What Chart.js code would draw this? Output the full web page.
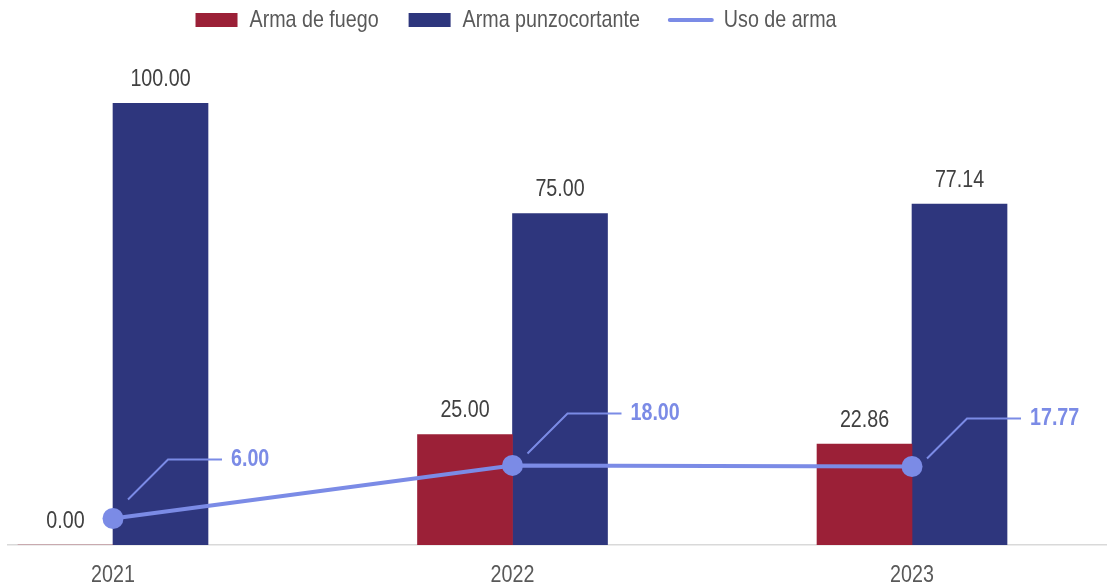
<!DOCTYPE html>
<html>
<head>
<meta charset="utf-8">
<script src="https://cdn.jsdelivr.net/npm/chart.js@4.4.1/dist/chart.umd.min.js"></script>
<style>
  html, body { margin: 0; padding: 0; background: #ffffff; }
  #wrap { width: 1107px; height: 588px; position: relative; }
</style>
</head>
<body>
<div id="wrap"><canvas id="chart"></canvas></div>
<script>
const years = ['2021', '2022', '2023'];
const armaFuego = [0, 25, 22.86];
const armaPunzocortante = [100, 75, 77.14];
const usoArma = [6, 18, 17.77];

const FONT = "'Liberation Sans', Arial, sans-serif";
const RED = '#9b2037';
const NAVY = '#2e367d';
const LILAC = '#7b8be6';

// leader line heights for the line labels (callouts)
const calloutRise = [59, 52, 48];

// no Arial Narrow here, so squeeze Liberation Sans to about the same width
const NARROW = 0.82;
const canvas = document.getElementById('chart');
const ctx2d = canvas.getContext('2d');
const rawMeasure = ctx2d.measureText.bind(ctx2d);
const rawFill = ctx2d.fillText.bind(ctx2d);
ctx2d.measureText = (text) => ({ width: rawMeasure(text).width * NARROW });
ctx2d.fillText = (text, x, y, maxWidth) => {
  let w = rawMeasure(text).width * NARROW;
  if (maxWidth !== undefined && maxWidth < w) w = maxWidth;
  rawFill(text, x, y, w);
};

const toPoints = (values) => values.map((v, i) => ({ x: i, y: v }));

const valueLabels = {
  id: 'valueLabels',
  afterDatasetsDraw(chart) {
    const { ctx } = chart;
    ctx.save();
    chart.data.datasets.forEach((ds, di) => {
      const meta = chart.getDatasetMeta(di);
      meta.data.forEach((el, i) => {
        const text = ds.data[i].y.toFixed(2);
        if (ds.type === 'line') {
          const rise = calloutRise[i];
          ctx.strokeStyle = LILAC;
          ctx.lineWidth = 2;
          ctx.beginPath();
          ctx.moveTo(el.x + 15, el.y - rise + 40);
          ctx.lineTo(el.x + 55, el.y - rise);
          ctx.lineTo(el.x + 109, el.y - rise);
          ctx.stroke();
          ctx.font = 'bold 24px ' + FONT;
          ctx.fillStyle = LILAC;
          ctx.textAlign = 'left';
          ctx.textBaseline = 'middle';
          ctx.fillText(text, el.x + 118, el.y - rise);
        } else {
          ctx.font = '24px ' + FONT;
          ctx.fillStyle = '#404040';
          ctx.textAlign = 'center';
          ctx.textBaseline = 'middle';
          ctx.fillText(text, el.x, el.y - 24);
        }
      });
    });
    ctx.restore();
  }
};

// nudge the legend to where it sits in the original
const legendShift = {
  id: 'legendShift',
  afterLayout(chart) {
    const lg = chart.legend;
    lg.left -= 41; lg.right -= 41;
    lg.top -= 61; lg.bottom -= 61;
  }
};

new Chart(canvas, {
  type: 'bar',
  data: {
    datasets: [
      {
        label: 'Arma de fuego',
        data: toPoints(armaFuego),
        backgroundColor: RED,
        barThickness: 95,
        order: 1
      },
      {
        label: 'Arma punzocortante',
        data: toPoints(armaPunzocortante),
        backgroundColor: NAVY,
        barThickness: 95,
        order: 2
      },
      {
        type: 'line',
        label: 'Uso de arma',
        data: toPoints(usoArma),
        borderColor: LILAC,
        backgroundColor: LILAC,
        borderWidth: 4,
        pointRadius: 10.5,
        pointBorderWidth: 0,
        pointBackgroundColor: LILAC,
        tension: 0,
        order: 0
      }
    ]
  },
  options: {
    responsive: true,
    maintainAspectRatio: false,
    animation: false,
    layout: { autoPadding: false, padding: { top: 39, left: 8, right: 1, bottom: 0 } },
    plugins: {
      tooltip: { enabled: false },
      legend: {
        position: 'top',
        labels: {
          usePointStyle: true,
          pointStyleWidth: 42,
          boxHeight: 14,
          padding: 30,
          color: '#595959',
          font: { family: FONT, size: 24 },
          sort: (a, b) => a.datasetIndex - b.datasetIndex,
          generateLabels(chart) {
            const items = Chart.defaults.plugins.legend.labels.generateLabels(chart);
            return items.map((item) => {
              if (item.datasetIndex === 2) {
                item.pointStyle = 'line';
                item.lineWidth = 4;
                item.strokeStyle = LILAC;
                item.lineCap = 'round';
              } else {
                item.pointStyle = 'rect';
                item.lineWidth = 0;
              }
              return item;
            });
          }
        }
      }
    },
    scales: {
      x: {
        type: 'linear',
        offset: false,
        min: -0.26283,
        max: 2.48557,
        afterBuildTicks(scale) {
          scale.ticks = years.map((_, i) => ({ value: i }));
        },
        afterFit(scale) {
          scale.height = 43;
        },
        grid: { display: false, drawTicks: false, offset: false },
        border: { color: '#d9d9d9', width: 1.5 },
        ticks: {
          padding: 16,
          maxRotation: 0,
          color: '#595959',
          font: { family: FONT, size: 24 },
          callback: (value) => years[value]
        }
      },
      y: {
        display: false,
        min: 0,
        max: 100
      }
    }
  },
  plugins: [valueLabels, legendShift]
});
</script>
</body>
</html>
